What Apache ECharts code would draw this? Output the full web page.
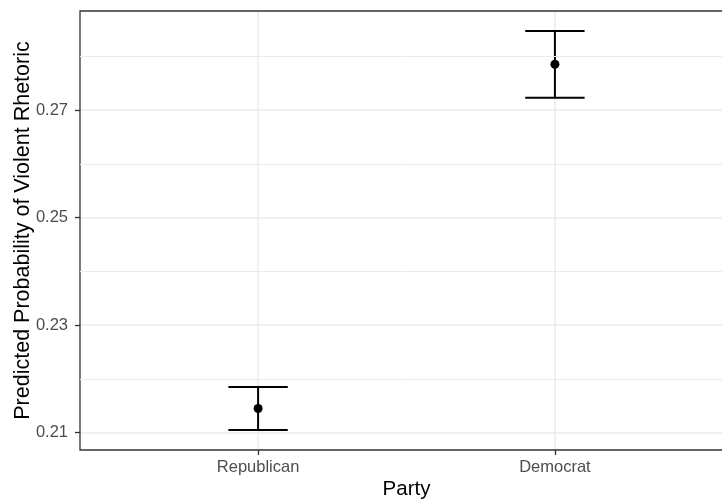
<!DOCTYPE html>
<html>
<head>
<meta charset="utf-8">
<script src="https://cdn.jsdelivr.net/npm/echarts@6/dist/echarts.min.js"></script>
<style>html,body{margin:0;padding:0;background:#fff}#c{width:722px;height:499px}</style>
</head>
<body>
<div id="c"></div>
<script>
const categories = ['Republican', 'Democrat'];
const estimates = [0.2145, 0.2785];
const lower = [0.2105, 0.2723];
const upper = [0.2185, 0.2847];
const yTicks = [0.21, 0.23, 0.25, 0.27];
const yMinor = [0.22, 0.24, 0.26, 0.28];
const xTitle = 'Party';
const yTitle = 'Predicted Probability of Violent Rhetoric';

const FONT = '"Liberation Sans", Arial, sans-serif';
const xPos = categories.map((c, i) => i + 1);
const span = Math.max(...upper) - Math.min(...lower);
const yMin = Math.min(...lower) - 0.05 * span;
const yMax = Math.max(...upper) + 0.05 * span;

const chart = echarts.init(document.getElementById('c'));
chart.setOption({
  animation: false,
  backgroundColor: '#ffffff',
  grid: { left: 80, right: -11, top: 11, bottom: 49, outerBoundsMode: 'none', containLabel: false,
    show: true, borderColor: '#333333', borderWidth: 1.3, backgroundColor: 'transparent', z: 5 },
  xAxis: {
    type: 'value', min: 0.4, max: 2.6,
    name: xTitle, nameLocation: 'middle', nameGap: 29, nameMoveOverlap: false,
    nameTextStyle: { color: '#000', fontSize: 20.5, fontFamily: FONT },
    axisLine: { show: false },
    axisTick: { show: true, length: 5, customValues: xPos, lineStyle: { color: '#333333', width: 1.3 } },
    axisLabel: { customValues: xPos, margin: 9, color: '#4D4D4D', fontSize: 16.5, fontFamily: FONT,
      formatter: v => categories[Math.round(v) - 1] || '' },
    splitLine: { show: true, lineStyle: { color: '#EBEBEB', width: 1.5 } }
  },
  yAxis: {
    type: 'value', min: yMin, max: yMax,
    name: yTitle, nameLocation: 'middle', nameGap: 46, nameMoveOverlap: false,
    nameTextStyle: { color: '#000', fontSize: 21.5, fontFamily: FONT },
    axisLine: { show: false },
    axisTick: { show: true, length: 5, customValues: yTicks, lineStyle: { color: '#333333', width: 1.3 } },
    axisLabel: { customValues: yTicks, margin: 12, color: '#4D4D4D', fontSize: 16.5, fontFamily: FONT,
      formatter: v => v.toFixed(2) },
    splitLine: { show: true, lineStyle: { color: '#EBEBEB', width: 1.5 } }
  },
  series: [
    {
      type: 'line', data: [], z: 1, silent: true,
      markLine: { silent: true, symbol: 'none', label: { show: false }, animation: false,
        lineStyle: { color: '#EBEBEB', width: 1, type: 'solid' },
        data: yMinor.map(v => ({ yAxis: v })) }
    },
    {
      type: 'custom', z: 3,
      data: xPos.map((x, i) => [x, lower[i], upper[i]]),
      encode: { x: 0, y: [1, 2] },
      renderItem: (params, api) => {
        const x = api.value(0);
        const lo = api.coord([x, api.value(1)]);
        const hi = api.coord([x, api.value(2)]);
        const half = api.size([0.2, 0])[0] / 2;
        const style = { stroke: '#000', lineWidth: 2, fill: null };
        return {
          type: 'group',
          children: [
            { type: 'line', shape: { x1: lo[0], y1: lo[1], x2: hi[0], y2: hi[1] }, style },
            { type: 'line', shape: { x1: lo[0] - half, y1: lo[1], x2: lo[0] + half, y2: lo[1] }, style },
            { type: 'line', shape: { x1: hi[0] - half, y1: hi[1], x2: hi[0] + half, y2: hi[1] }, style }
          ]
        };
      }
    },
    {
      type: 'scatter', z: 4, symbol: 'circle', symbolSize: 9,
      itemStyle: { color: '#000', opacity: 1 },
      data: xPos.map((x, i) => [x, estimates[i]])
    }
  ]
});
</script>
</body>
</html>
